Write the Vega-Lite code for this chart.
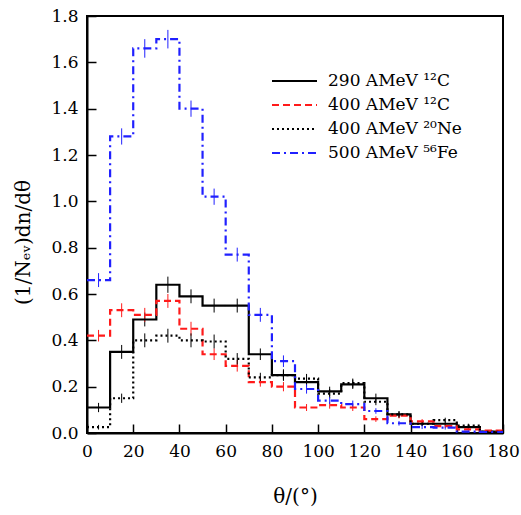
{
  "$schema": "https://vega.github.io/schema/vega-lite/v6.json",
  "width": 416,
  "height": 417,
  "autosize": {"type": "none"},
  "padding": {"left": 87, "top": 16, "right": 18, "bottom": 82},
  "background": "white",
  "config": {
    "font": "DejaVu Serif",
    "view": {"stroke": "black", "strokeWidth": 2},
    "legend": {"labelFont": "DejaVu Serif", "titleFont": "DejaVu Serif"},
    "axis": {"grid": false, "domainColor": "black", "domainWidth": 2, "tickColor": "black", "tickWidth": 1.5, "labelFont": "DejaVu Serif", "titleFont": "DejaVu Serif", "labelColor": "black", "titleColor": "black", "labelFontSize": 17, "titleFontSize": 20, "titleFontWeight": "normal", "labelFlush": false}
  },
  "datasets": {
    "h": [
      {"s": "290 AMeV ¹²C", "lo": 0, "c": 5, "y": 0.11, "e": 0.02},
      {"s": "290 AMeV ¹²C", "lo": 10, "c": 15, "y": 0.35, "e": 0.03},
      {"s": "290 AMeV ¹²C", "lo": 20, "c": 25, "y": 0.49, "e": 0.03},
      {"s": "290 AMeV ¹²C", "lo": 30, "c": 35, "y": 0.64, "e": 0.035},
      {"s": "290 AMeV ¹²C", "lo": 40, "c": 45, "y": 0.59, "e": 0.03},
      {"s": "290 AMeV ¹²C", "lo": 50, "c": 55, "y": 0.55, "e": 0.03},
      {"s": "290 AMeV ¹²C", "lo": 60, "c": 65, "y": 0.55, "e": 0.03},
      {"s": "290 AMeV ¹²C", "lo": 70, "c": 75, "y": 0.34, "e": 0.025},
      {"s": "290 AMeV ¹²C", "lo": 80, "c": 85, "y": 0.25, "e": 0.025},
      {"s": "290 AMeV ¹²C", "lo": 90, "c": 95, "y": 0.22, "e": 0.02},
      {"s": "290 AMeV ¹²C", "lo": 100, "c": 105, "y": 0.18, "e": 0.02},
      {"s": "290 AMeV ¹²C", "lo": 110, "c": 115, "y": 0.21, "e": 0.02},
      {"s": "290 AMeV ¹²C", "lo": 120, "c": 125, "y": 0.15, "e": 0.02},
      {"s": "290 AMeV ¹²C", "lo": 130, "c": 135, "y": 0.08, "e": 0.015},
      {"s": "290 AMeV ¹²C", "lo": 140, "c": 145, "y": 0.04, "e": 0.01},
      {"s": "290 AMeV ¹²C", "lo": 150, "c": 155, "y": 0.04, "e": 0.01},
      {"s": "290 AMeV ¹²C", "lo": 160, "c": 165, "y": 0.025, "e": 0.008},
      {"s": "290 AMeV ¹²C", "lo": 170, "c": 175, "y": 0.006, "e": 0.004},
      {"s": "290 AMeV ¹²C", "lo": 180, "y": 0.006},
      {"s": "400 AMeV ¹²C", "lo": 0, "c": 5, "y": 0.42, "e": 0.025},
      {"s": "400 AMeV ¹²C", "lo": 10, "c": 15, "y": 0.53, "e": 0.03},
      {"s": "400 AMeV ¹²C", "lo": 20, "c": 25, "y": 0.51, "e": 0.03},
      {"s": "400 AMeV ¹²C", "lo": 30, "c": 35, "y": 0.57, "e": 0.03},
      {"s": "400 AMeV ¹²C", "lo": 40, "c": 45, "y": 0.45, "e": 0.03},
      {"s": "400 AMeV ¹²C", "lo": 50, "c": 55, "y": 0.34, "e": 0.025},
      {"s": "400 AMeV ¹²C", "lo": 60, "c": 65, "y": 0.29, "e": 0.025},
      {"s": "400 AMeV ¹²C", "lo": 70, "c": 75, "y": 0.22, "e": 0.02},
      {"s": "400 AMeV ¹²C", "lo": 80, "c": 85, "y": 0.2, "e": 0.02},
      {"s": "400 AMeV ¹²C", "lo": 90, "c": 95, "y": 0.11, "e": 0.015},
      {"s": "400 AMeV ¹²C", "lo": 100, "c": 105, "y": 0.12, "e": 0.015},
      {"s": "400 AMeV ¹²C", "lo": 110, "c": 115, "y": 0.11, "e": 0.015},
      {"s": "400 AMeV ¹²C", "lo": 120, "c": 125, "y": 0.06, "e": 0.012},
      {"s": "400 AMeV ¹²C", "lo": 130, "c": 135, "y": 0.075, "e": 0.012},
      {"s": "400 AMeV ¹²C", "lo": 140, "c": 145, "y": 0.05, "e": 0.01},
      {"s": "400 AMeV ¹²C", "lo": 150, "c": 155, "y": 0.03, "e": 0.008},
      {"s": "400 AMeV ¹²C", "lo": 160, "c": 165, "y": 0.016, "e": 0.006},
      {"s": "400 AMeV ¹²C", "lo": 170, "c": 175, "y": 0.01, "e": 0.004},
      {"s": "400 AMeV ¹²C", "lo": 180, "y": 0.01},
      {"s": "400 AMeV ²⁰Ne", "lo": 0, "c": 5, "y": 0.025, "e": 0.01},
      {"s": "400 AMeV ²⁰Ne", "lo": 10, "c": 15, "y": 0.15, "e": 0.02},
      {"s": "400 AMeV ²⁰Ne", "lo": 20, "c": 25, "y": 0.4, "e": 0.03},
      {"s": "400 AMeV ²⁰Ne", "lo": 30, "c": 35, "y": 0.42, "e": 0.03},
      {"s": "400 AMeV ²⁰Ne", "lo": 40, "c": 45, "y": 0.4, "e": 0.03},
      {"s": "400 AMeV ²⁰Ne", "lo": 50, "c": 55, "y": 0.395, "e": 0.03},
      {"s": "400 AMeV ²⁰Ne", "lo": 60, "c": 65, "y": 0.32, "e": 0.025},
      {"s": "400 AMeV ²⁰Ne", "lo": 70, "c": 75, "y": 0.24, "e": 0.02},
      {"s": "400 AMeV ²⁰Ne", "lo": 80, "c": 85, "y": 0.25, "e": 0.02},
      {"s": "400 AMeV ²⁰Ne", "lo": 90, "c": 95, "y": 0.235, "e": 0.02},
      {"s": "400 AMeV ²⁰Ne", "lo": 100, "c": 105, "y": 0.17, "e": 0.02},
      {"s": "400 AMeV ²⁰Ne", "lo": 110, "c": 115, "y": 0.215, "e": 0.02},
      {"s": "400 AMeV ²⁰Ne", "lo": 120, "c": 125, "y": 0.135, "e": 0.015},
      {"s": "400 AMeV ²⁰Ne", "lo": 130, "c": 135, "y": 0.08, "e": 0.012},
      {"s": "400 AMeV ²⁰Ne", "lo": 140, "c": 145, "y": 0.04, "e": 0.01},
      {"s": "400 AMeV ²⁰Ne", "lo": 150, "c": 155, "y": 0.056, "e": 0.01},
      {"s": "400 AMeV ²⁰Ne", "lo": 160, "c": 165, "y": 0.032, "e": 0.008},
      {"s": "400 AMeV ²⁰Ne", "lo": 170, "c": 175, "y": 0.005, "e": 0.003},
      {"s": "400 AMeV ²⁰Ne", "lo": 180, "y": 0.005},
      {"s": "500 AMeV ⁵⁶Fe", "lo": 0, "c": 5, "y": 0.66, "e": 0.03},
      {"s": "500 AMeV ⁵⁶Fe", "lo": 10, "c": 15, "y": 1.28, "e": 0.035},
      {"s": "500 AMeV ⁵⁶Fe", "lo": 20, "c": 25, "y": 1.66, "e": 0.04},
      {"s": "500 AMeV ⁵⁶Fe", "lo": 30, "c": 35, "y": 1.7, "e": 0.04},
      {"s": "500 AMeV ⁵⁶Fe", "lo": 40, "c": 45, "y": 1.4, "e": 0.035},
      {"s": "500 AMeV ⁵⁶Fe", "lo": 50, "c": 55, "y": 1.02, "e": 0.035},
      {"s": "500 AMeV ⁵⁶Fe", "lo": 60, "c": 65, "y": 0.77, "e": 0.03},
      {"s": "500 AMeV ⁵⁶Fe", "lo": 70, "c": 75, "y": 0.51, "e": 0.03},
      {"s": "500 AMeV ⁵⁶Fe", "lo": 80, "c": 85, "y": 0.31, "e": 0.025},
      {"s": "500 AMeV ⁵⁶Fe", "lo": 90, "c": 95, "y": 0.19, "e": 0.02},
      {"s": "500 AMeV ⁵⁶Fe", "lo": 100, "c": 105, "y": 0.14, "e": 0.015},
      {"s": "500 AMeV ⁵⁶Fe", "lo": 110, "c": 115, "y": 0.125, "e": 0.015},
      {"s": "500 AMeV ⁵⁶Fe", "lo": 120, "c": 125, "y": 0.095, "e": 0.012},
      {"s": "500 AMeV ⁵⁶Fe", "lo": 130, "c": 135, "y": 0.042, "e": 0.01},
      {"s": "500 AMeV ⁵⁶Fe", "lo": 140, "c": 145, "y": 0.025, "e": 0.008},
      {"s": "500 AMeV ⁵⁶Fe", "lo": 150, "c": 155, "y": 0.023, "e": 0.008},
      {"s": "500 AMeV ⁵⁶Fe", "lo": 160, "c": 165, "y": 0.006, "e": 0.004},
      {"s": "500 AMeV ⁵⁶Fe", "lo": 170, "c": 175, "y": 0.004, "e": 0.003},
      {"s": "500 AMeV ⁵⁶Fe", "lo": 180, "y": 0.004}
    ]
  },
  "data": {"name": "h"},
  "layer": [
    {
      "transform": [{"filter": "isValid(datum.e)"}],
      "mark": {"type": "errorbar", "thickness": 1},
      "encoding": {
        "x": {"field": "c", "type": "quantitative", "title": "θ/(°)"},
        "y": {"field": "y", "type": "quantitative", "title": "(1/Nₑᵥ)dn/dθ"},
        "yError": {"field": "e"},
        "color": {"field": "s", "type": "nominal", "title": null}
      }
    },
    {
      "mark": {"type": "line", "interpolate": "step-after", "strokeWidth": 2.2, "clip": true},
      "encoding": {
        "x": {"field": "lo", "type": "quantitative", "title": "θ/(°)", "scale": {"domain": [0, 180], "nice": false}, "axis": {"values": [0, 20, 40, 60, 80, 100, 120, 140, 160, 180], "format": "d", "tickSize": -9, "labelPadding": 19, "labelFlush": false, "titlePadding": 27}},
        "y": {"field": "y", "type": "quantitative", "title": "(1/Nₑᵥ)dn/dθ", "scale": {"domain": [0, 1.8], "nice": false}, "axis": {"values": [0, 0.2, 0.4, 0.6, 0.8, 1.0, 1.2, 1.4, 1.6, 1.8], "format": ".1f", "tickSize": -9, "labelPadding": 18, "labelFlush": false, "titlePadding": 17, "titleY": 226}},
        "color": {"field": "s", "type": "nominal", "title": null, "scale": {"domain": ["290 AMeV ¹²C", "400 AMeV ¹²C", "400 AMeV ²⁰Ne", "500 AMeV ⁵⁶Fe"], "range": ["#000000", "#ff1a1a", "#000000", "#2020ff"]},
          "legend": {"orient": "none", "legendX": 184, "legendY": 55, "symbolType": "stroke", "symbolSize": 2025, "symbolStrokeWidth": 2, "labelFontSize": 17, "labelColor": "black", "rowPadding": 4, "clipHeight": 20, "padding": 0, "labelOffset": 10, "labelLimit": 300}},
        "strokeDash": {"field": "s", "type": "nominal", "title": null, "scale": {"domain": ["290 AMeV ¹²C", "400 AMeV ¹²C", "400 AMeV ²⁰Ne", "500 AMeV ⁵⁶Fe"], "range": [[1, 0], [7, 4], [2, 3], [8, 4, 2, 4]]}}
      }
    }
  ]
}
